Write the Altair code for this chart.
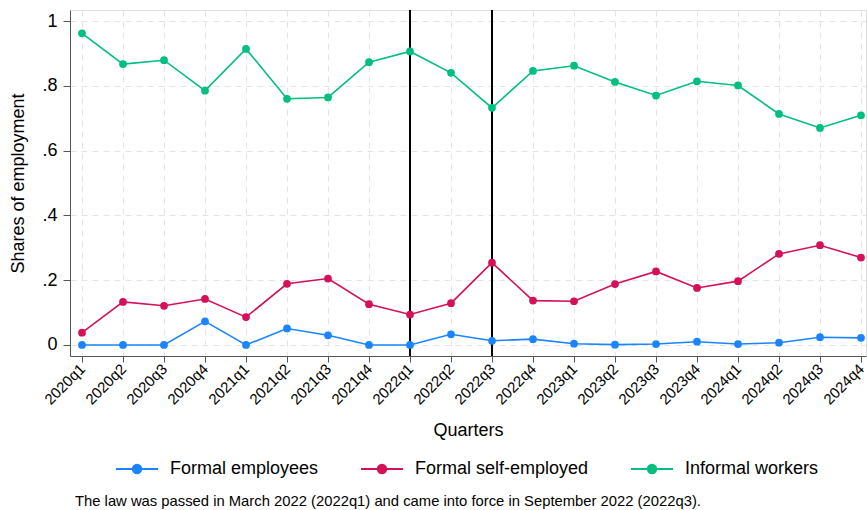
import altair as alt
import pandas as pd

quarters = ["2020q1", "2020q2", "2020q3", "2020q4", "2021q1", "2021q2", "2021q3", "2021q4",
            "2022q1", "2022q2", "2022q3", "2022q4", "2023q1", "2023q2", "2023q3", "2023q4",
            "2024q1", "2024q2", "2024q3", "2024q4"]
formal_employees = [0.0, 0.0, 0.0, 0.073, 0.0, 0.051, 0.030, 0.0, 0.0, 0.033,
                    0.013, 0.018, 0.004, 0.001, 0.003, 0.010, 0.003, 0.007, 0.024, 0.022]
formal_self = [0.038, 0.133, 0.121, 0.142, 0.086, 0.189, 0.205, 0.126, 0.094, 0.129,
               0.254, 0.137, 0.135, 0.188, 0.227, 0.176, 0.197, 0.281, 0.308, 0.270]
informal = [0.962, 0.867, 0.879, 0.785, 0.914, 0.760, 0.764, 0.873, 0.906, 0.840,
            0.732, 0.846, 0.862, 0.812, 0.770, 0.814, 0.801, 0.713, 0.670, 0.709]
series_names = ["Formal employees", "Formal self-employed", "Informal workers"]
series_colors = ["#1a85ff", "#d41159", "#00bf7f"]
event_quarters = ["2022q1", "2022q3"]
note = "The law was passed in March 2022 (2022q1) and came into force in September 2022 (2022q3)."

rows = []
for name, vals in zip(series_names, [formal_employees, formal_self, informal]):
    for i, (q, v) in enumerate(zip(quarters, vals)):
        rows.append({"series": name, "quarter": q, "idx": i, "share": v})
df = pd.DataFrame(rows)
ev = pd.DataFrame({"quarter": event_quarters, "idx": [quarters.index(q) for q in event_quarters]})

FONT = "Liberation Sans"
label_array = "[" + ",".join("'" + q + "'" for q in quarters) + "]"
common = dict(labelFont=FONT, titleFont=FONT, titleFontWeight="normal", labelColor="black",
              titleColor="black", domainColor="#555555", tickColor="#555555",
              gridColor="#e4e4e4", gridDash=[6, 5], gridWidth=1, labelOverlap=False)

x_enc = alt.X("idx:Q",
              scale=alt.Scale(domain=[-0.293, 19.122], nice=False, zero=False),
              axis=alt.Axis(values=list(range(len(quarters))), labelExpr=label_array + "[datum.value]",
                            title="Quarters", labelAngle=-45, labelAlign="right", labelBaseline="middle",
                            labelPadding=4, labelFontSize=15, titleFontSize=18, titlePadding=14,
                            tickSize=6, grid=True, **common))
y_enc = alt.Y("share:Q",
              scale=alt.Scale(domain=[-0.034, 1.034], nice=False, zero=False),
              axis=alt.Axis(values=[0, 0.2, 0.4, 0.6, 0.8, 1.0],
                            labelExpr="datum.value == 0 ? '0' : datum.value == 1 ? '1' : '.' + format(datum.value*10, 'd')",
                            title="Shares of employment", labelFontSize=18, titleFontSize=18,
                            tickSize=7, labelPadding=6, titlePadding=14, grid=True, **common))
color_enc = alt.Color("series:N",
                      scale=alt.Scale(domain=series_names, range=series_colors),
                      legend=alt.Legend(title=None, orient="none", direction="horizontal",
                                        legendX=45, legendY=437,
                                        symbolType="M-1,0H1M0.2,0A0.2,0.2,0,1,1,-0.2,0A0.2,0.2,0,1,1,0.2,0Z",
                                        symbolSize=1764, symbolStrokeWidth=2, labelFontSize=18,
                                        labelOffset=11, columnPadding=38, labelFont=FONT,
                                        labelLimit=400, labelColor="black"))

lines = alt.Chart(df).mark_line(strokeWidth=1.6).encode(x=x_enc, y=y_enc, color=color_enc)
points = alt.Chart(df).mark_point(filled=True, size=60, opacity=1).encode(x=x_enc, y=y_enc, color=color_enc)
rules = alt.Chart(ev).mark_rule(color="black", strokeWidth=2).encode(x="idx:Q")

chart = alt.layer(rules, lines, points).properties(
    width=796, height=346,
    autosize=alt.AutoSizeParams(type="none"),
    padding={"left": 70, "top": 10, "right": 1, "bottom": 154},
    title=alt.TitleParams(note, orient="bottom", anchor="start", fontSize=14.8, font=FONT,
                          fontWeight="normal", color="black", dx=65, offset=16),
).configure_view(stroke=None).configure(background="white")

chart.save("out.html", embed_options={"renderer": "svg", "actions": False})
